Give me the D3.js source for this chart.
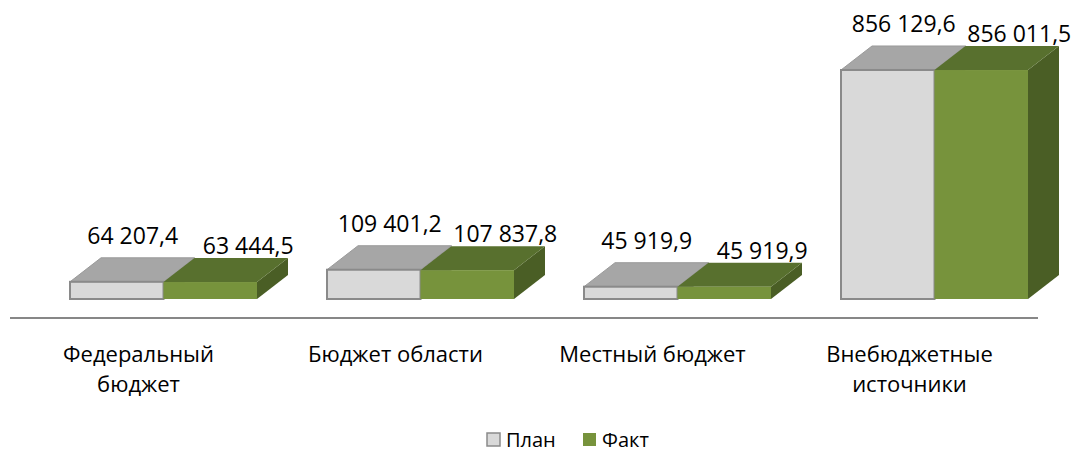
<!DOCTYPE html>
<html>
<head>
<meta charset="utf-8">
<script src="https://cdn.jsdelivr.net/npm/d3@7"></script>
<style>
body { margin: 0; background: #fff; }
text { font-family: "Open Sans", sans-serif; fill: #000; }
</style>
</head>
<body>
<svg id="chart" width="1088" height="452"></svg>
<script>
var categories = ["Федеральный бюджет", "Бюджет области", "Местный бюджет", "Внебюджетные источники"];
var seriesNames = ["План", "Факт"];
var planValues = [64207.4, 109401.2, 45919.9, 856129.6];
var factValues = [63444.5, 107837.8, 45919.9, 856011.5];

var svg = d3.select("#chart");
var floorY = 299, axisY = 318;
var depthX = 31, depthY = 24;

var colors = {
  "План": {front: "#d9d9d9", top: "#a6a6a6", side: "#8c8c8c", stroke: "#8a8a8a"},
  "Факт": {front: "#77933c", top: "#58702e", side: "#4a5e25", stroke: "none"}
};

var x = d3.scaleBand().domain(categories).range([10, 1038]);
var xs = d3.scaleBand().domain(seriesNames).range([60, 247]);
var y = d3.scaleLinear().domain([0, 900000]).range([floorY, 58.26]);

var fmt = function(v) {
  return d3.format(",.1f")(v).replace(/,/g, " ").replace(".", ",");
};

var data = [];
categories.forEach(function(c, i) {
  data.push({cat: c, s: "План", v: planValues[i]});
  data.push({cat: c, s: "Факт", v: factValues[i]});
});

// axis line
svg.append("line")
  .attr("x1", x.range()[0]).attr("x2", x.range()[1])
  .attr("y1", axisY).attr("y2", axisY)
  .attr("stroke", "#878787").attr("stroke-width", 2);

var bars = svg.append("g").selectAll("g.bar")
  .data(data)
  .enter().append("g").attr("class", "bar");

bars.each(function(d) {
  var g = d3.select(this);
  var x0 = x(d.cat) + xs(d.s), w = xs.bandwidth();
  var x1 = x0 + w, yt = y(d.v);
  var col = colors[d.s];
  g.append("path")
    .attr("d", "M" + x1 + "," + floorY + "L" + (x1 + depthX) + "," + (floorY - depthY) +
      "L" + (x1 + depthX) + "," + (yt - depthY) + "L" + x1 + "," + yt + "Z")
    .attr("fill", col.side);
  g.append("path")
    .attr("d", "M" + x0 + "," + yt + "L" + (x0 + depthX) + "," + (yt - depthY) +
      "L" + (x1 + depthX) + "," + (yt - depthY) + "L" + x1 + "," + yt + "Z")
    .attr("fill", col.top)
    .attr("stroke", col.stroke == "none" ? "none" : "#9a9a9a").attr("stroke-width", 1);
  g.append("rect")
    .attr("x", x0).attr("y", yt)
    .attr("width", w).attr("height", floorY - yt)
    .attr("fill", col.front)
    .attr("stroke", col.stroke).attr("stroke-width", 2);
});

// value labels
svg.append("g").selectAll("text")
  .data(data)
  .enter().append("text")
  .attr("text-anchor", "middle")
  .attr("font-size", "23px")
  .attr("x", function(d) {
    return x(d.cat) + xs(d.s) + xs.bandwidth() / 2 + (d.s == "План" ? 16 : 38);
  })
  .attr("y", function(d) {
    return y(d.v) - depthY - (d.s == "План" ? 14 : 4);
  })
  .text(function(d) { return fmt(d.v); });

// category labels
var catLabels = svg.append("g").selectAll("text")
  .data(categories)
  .enter().append("text")
  .attr("text-anchor", "middle")
  .attr("font-size", "22px")
  .attr("x", function(d) { return x(d) + x.bandwidth() / 2; })
  .attr("y", 362);

catLabels.each(function(d) {
  var t = d3.select(this), cx = x(d) + x.bandwidth() / 2;
  var words = d.split(" "), lines = [], line = [];
  var probe = t.append("tspan");
  words.forEach(function(wd) {
    line.push(wd);
    probe.text(line.join(" "));
    if (probe.node().getComputedTextLength() > 215 && line.length > 1) {
      line.pop();
      lines.push(line.join(" "));
      line = [wd];
    }
  });
  lines.push(line.join(" "));
  probe.remove();
  lines.forEach(function(l, i) {
    t.append("tspan").attr("x", cx).attr("dy", i == 0 ? 0 : 30).text(l);
  });
});

// legend
var legend = svg.append("g").attr("transform", "translate(487,447)");
var li = legend.selectAll("g").data(seriesNames).enter().append("g")
  .attr("transform", function(d, i) { return "translate(" + (i * 96) + ",0)"; });
li.append("rect")
  .attr("x", 0).attr("y", -14).attr("width", 13).attr("height", 13)
  .attr("fill", function(d) { return colors[d].front; })
  .attr("stroke", function(d) { return d == "План" ? "#8a8a8a" : "none"; })
  .attr("stroke-width", 1.5);
li.append("text")
  .attr("x", 19).attr("y", 0)
  .attr("font-size", "20px")
  .text(function(d) { return d; });
</script>
</body>
</html>
